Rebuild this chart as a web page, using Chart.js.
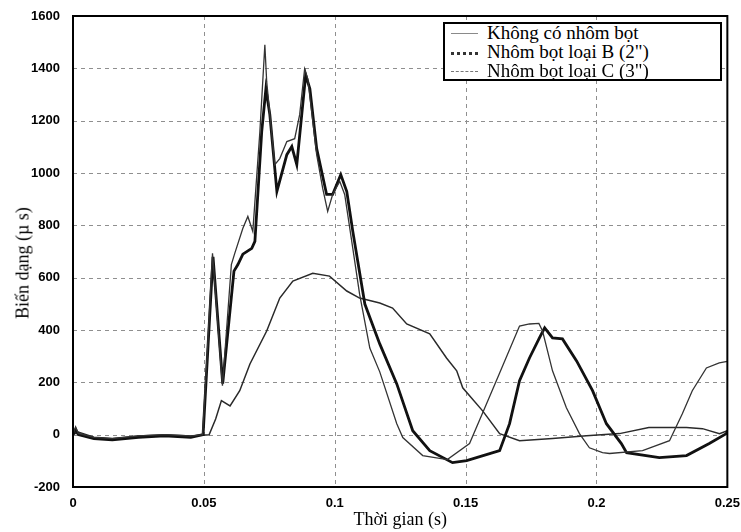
<!DOCTYPE html>
<html>
<head>
<meta charset="utf-8">
<script src="https://cdn.jsdelivr.net/npm/chart.js@4"></script>
<style>
  body { margin: 0; background: #fff; }
  #wrap { position: relative; width: 741px; height: 532px; }
  #legend {
    position: absolute; left: 443px; top: 22px; width: 275px; height: 55px;
    border: 2px solid #000; background: #fff;
    font-family: "Liberation Serif", "Times New Roman", serif; font-size: 19px; color: #000;
  }
  .row { position: absolute; left: 0; height: 19px; line-height: 19px; white-space: nowrap; }
  .sample { position: absolute; left: 6px; width: 27px; top: 9px; }
  .label { position: absolute; left: 42px; top: -1px; }
  #yTitle {
    position: absolute; left: 23px; top: 263px; white-space: nowrap;
    transform: translate(-50%, -50%) rotate(-90deg);
    font-family: "Liberation Serif", "Times New Roman", serif; font-size: 18px; color: #000;
  }
</style>
</head>
<body>
<div id="wrap">
  <canvas id="strainChart" width="741" height="532"></canvas>
  <div id="yTitle">Biến dạng (µ s)</div>
  <div id="legend"></div>
</div>
<script>
// Time (s) and strain values, one pair of arrays per curve

// Không có nhôm bọt
const timeA = [0, 0.001, 0.002, 0.008, 0.015, 0.025, 0.035, 0.045,
  0.0495, 0.0515, 0.0533, 0.0571, 0.0605, 0.0618, 0.0649, 0.0668, 0.0687,
  0.0714, 0.0733, 0.0740, 0.0771, 0.0790, 0.0817, 0.0847, 0.0866, 0.0885, 0.0897,
  0.0931, 0.0954, 0.0973, 0.0992, 0.1019, 0.1038, 0.1069, 0.1095, 0.1134, 0.1172, 0.1237,
  0.1260, 0.1336, 0.1430, 0.1515, 0.1580, 0.1630, 0.1706, 0.1744, 0.1780,
  0.1794, 0.1832, 0.1885, 0.1935, 0.1973, 0.2023, 0.2050, 0.2176, 0.2279,
  0.2328, 0.2366, 0.2420, 0.2469, 0.25];
const strainA = [0, 30, 5, -10, -15, -5, 0, -5,
  0, 350, 693, 187, 650, 693, 789, 834, 777,
  1158, 1490, 1349, 1032, 1055, 1120, 1131, 1223, 1398, 1360,
  1070, 941, 853, 918, 968, 918, 712, 537, 331, 240, 42,
  -11, -80, -95, -34, 118, 236, 415, 423, 425,
  396, 244, 103, 4, -50, -69, -72, -61, -23,
  80, 168, 255, 274, 280];

// Nhôm bọt loại B (2")
const timeB = [0, 0.001, 0.002, 0.008, 0.015, 0.025, 0.035, 0.045,
  0.0497, 0.0516, 0.0535, 0.0572, 0.0615, 0.0630, 0.0649, 0.0683, 0.0695,
  0.0721, 0.0737, 0.0752, 0.0779, 0.0817, 0.0836, 0.0855, 0.0889, 0.0905,
  0.0931, 0.0969, 0.0992, 0.1023, 0.1046, 0.1069, 0.1115, 0.1172, 0.1237, 0.1298, 0.1363,
  0.1450, 0.1504, 0.1630, 0.1668, 0.1706, 0.1744, 0.1782, 0.1802,
  0.1832, 0.1870, 0.1924, 0.1985, 0.2038, 0.2095, 0.2115, 0.2240,
  0.2344, 0.2431, 0.2496, 0.25];
const strainB = [0, 20, 0, -15, -20, -10, -5, -10,
  0, 340, 680, 195, 625, 650, 690, 712, 739,
  1158, 1322, 1223, 930, 1070, 1101, 1032, 1375, 1322,
  1093, 918, 918, 994, 929, 777, 499, 347, 194, 15, -61,
  -107, -99, -61, 42, 206, 293, 370, 408,
  370, 366, 282, 168, 42, -34, -69, -88,
  -80, -34, 4, 15];

// Nhôm bọt loại C (3")
const timeC = [0, 0.002, 0.008, 0.015, 0.025, 0.035, 0.045, 0.052,
  0.0545, 0.0567, 0.060, 0.0637, 0.0676, 0.074, 0.079, 0.084, 0.0916, 0.098,
  0.1046, 0.1095, 0.1172, 0.1221, 0.1275, 0.1363, 0.1427, 0.1466, 0.1489, 0.1565,
  0.163, 0.1706, 0.1832, 0.1962, 0.2088, 0.220, 0.2344, 0.2405, 0.247, 0.25];
const strainC = [0, 10, -10, -15, -5, 0, -5, 0,
  60, 130, 110, 168, 270, 396, 522, 587, 617, 606,
  549, 522, 503, 484, 423, 385, 293, 244, 179, 91,
  4, -23, -15, -4, 4, 27, 27, 23, 4, 15];

const seriesLabels = ['Không có nhôm bọt', 'Nhôm bọt loại B (2")', 'Nhôm bọt loại C (3")'];
const xTicks = [0, 0.05, 0.1, 0.15, 0.2, 0.25];
const yTicks = [-200, 0, 200, 400, 600, 800, 1000, 1200, 1400, 1600];

function toPoints(xs, ys) {
  return xs.map((x, i) => ({ x: x, y: ys[i] }));
}

// dashed grid (placed by the scales) and the black box round the plot area
const framePlugin = {
  id: 'frame',
  beforeDatasetsDraw(chart) {
    const a = chart.chartArea;
    const ctx = chart.ctx;
    ctx.save();
    ctx.strokeStyle = '#8f8f8f';
    ctx.lineWidth = 1;
    ctx.setLineDash([4, 4]);
    ctx.beginPath();
    xTicks.forEach(v => {
      const px = Math.round(chart.scales.x.getPixelForValue(v)) + 0.5;
      ctx.moveTo(px, a.top);
      ctx.lineTo(px, a.bottom);
    });
    yTicks.forEach(v => {
      const py = Math.round(chart.scales.y.getPixelForValue(v)) + 0.5;
      ctx.moveTo(a.left, py);
      ctx.lineTo(a.right, py);
    });
    ctx.stroke();
    ctx.restore();
  },
  afterDatasetsDraw(chart) {
    const a = chart.chartArea;
    const ctx = chart.ctx;
    ctx.save();
    ctx.strokeStyle = '#000';
    ctx.lineWidth = 2;
    ctx.strokeRect(a.left, a.top, a.right - a.left, a.bottom - a.top);
    ctx.restore();
  }
};

const tickFont = { family: '"Liberation Sans", Arial, sans-serif', size: 13, weight: 'bold' };
const titleFont = { family: '"Liberation Serif", "Times New Roman", serif', size: 18 };

const ctx = document.getElementById('strainChart').getContext('2d');
const strainChart = new Chart(ctx, {
    type: 'line',
    data: {
        datasets: [{
            label: seriesLabels[0],
            data: toPoints(timeA, strainA),
            borderColor: '#333',
            borderWidth: 1.3
        }, {
            label: seriesLabels[1],
            data: toPoints(timeB, strainB),
            borderColor: '#111',
            borderWidth: 2.8
        }, {
            label: seriesLabels[2],
            data: toPoints(timeC, strainC),
            borderColor: '#2a2a2a',
            borderWidth: 1.5
        }]
    },
    options: {
        responsive: false,
        animation: false,
        elements: { point: { radius: 0 }, line: { tension: 0 } },
        layout: { padding: { top: 16, right: 13, left: 0, bottom: 0 } },
        plugins: { legend: { display: false }, tooltip: { enabled: false } },
        scales: {
            x: {
                type: 'linear',
                min: 0,
                max: 0.25,
                afterFit: (scale) => { scale.height = 45; },
                afterBuildTicks: (scale) => { scale.ticks = xTicks.map(v => ({ value: v })); },
                ticks: {
                    color: '#000',
                    font: tickFont,
                    padding: 1,
                    maxRotation: 0,
                    callback: (v) => String(Number(v.toFixed(2)))
                },
                grid: { display: false },
                border: { display: false },
                title: { display: true, text: 'Thời gian (s)', color: '#000', font: titleFont, padding: 1 }
            },
            y: {
                min: -200,
                max: 1600,
                afterFit: (scale) => { scale.width = 73; },
                afterBuildTicks: (scale) => { scale.ticks = yTicks.map(v => ({ value: v })); },
                ticks: { color: '#000', font: tickFont, padding: 5, callback: (v) => String(v) },
                grid: { display: false },
                border: { display: false }
            }
        }
    },
    plugins: [framePlugin]
});

// Legend box in the top right corner, as in the figure
const legendSamples = [
    'border-top: 1px solid #8a8a8a;',
    'border-top: 3px dotted #333;',
    'border-top: 1px dashed #777;'
];
const legendEl = document.getElementById('legend');
seriesLabels.forEach((text, i) => {
    const row = document.createElement('div');
    row.className = 'row';
    row.style.top = (i * 19) + 'px';
    row.style.width = '100%';
    row.innerHTML = '<span class="sample" style="' + legendSamples[i] + '"></span>';
    const label = document.createElement('span');
    label.className = 'label';
    label.textContent = text;
    row.appendChild(label);
    legendEl.appendChild(row);
});
</script>
</body>
</html>
